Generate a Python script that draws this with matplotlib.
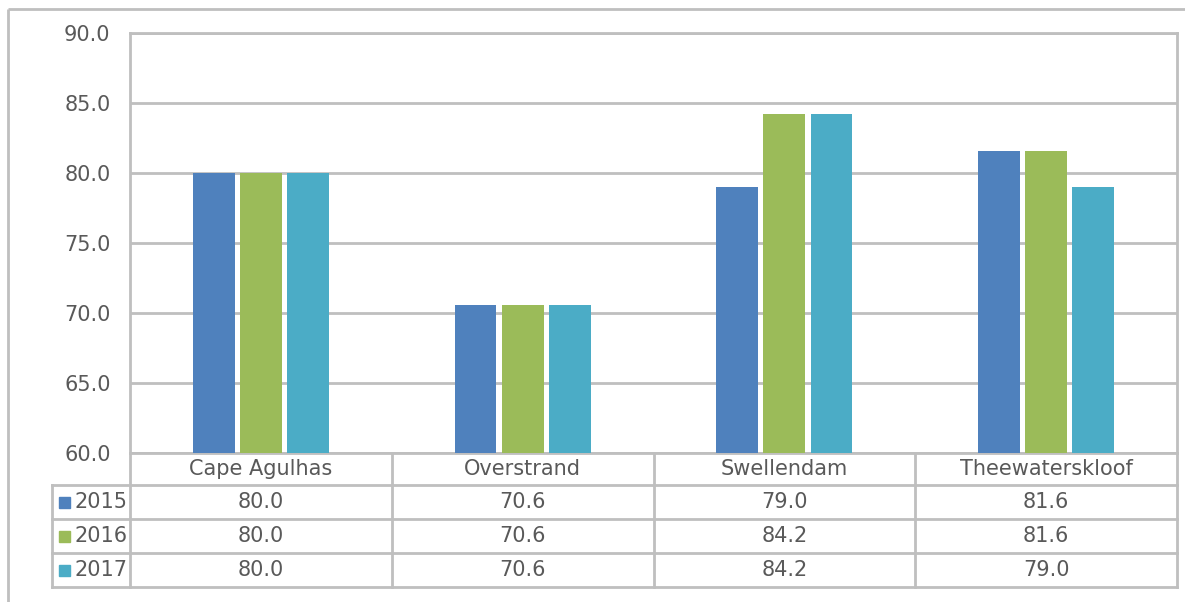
import matplotlib
matplotlib.use("Agg")
import matplotlib.pyplot as plt
import matplotlib.transforms as mtransforms
from matplotlib.patches import Rectangle
from matplotlib.lines import Line2D
import numpy as np

municipalities = ["Cape Agulhas", "Overstrand", "Swellendam", "Theewaterskloof"]
years = ["2015", "2016", "2017"]
values_2015 = [80.0, 70.6, 79.0, 81.6]
values_2016 = [80.0, 70.6, 84.2, 81.6]
values_2017 = [80.0, 70.6, 84.2, 79.0]
series = [values_2015, values_2016, values_2017]
colors = ["#4F81BD", "#9BBB59", "#4BACC6"]

grid_col = "#BFBFBF"
text_col = "#595959"
fsize = 15
plt.rcParams["font.family"] = ["DejaVu Sans"]

W, H = 1185, 602
fig = plt.figure(figsize=(W / 100, H / 100), dpi=100)
ax = fig.add_axes([130 / W, (H - 453) / H, 1047 / W, 420 / H])

x = np.arange(len(municipalities))
bw = 0.16
step = 0.18
for i, vals in enumerate(series):
    ax.bar(x + (i - 1) * step, vals, width=bw, color=colors[i], zorder=3)

ax.set_xlim(-0.5, len(municipalities) - 0.5)
ax.set_ylim(60, 90)
ax.set_yticks(np.arange(60, 91, 5))
ax.set_yticklabels([f"{v:.1f}" for v in np.arange(60, 91, 5)])
ax.set_xticks([])
ax.tick_params(axis="y", length=0, pad=14, labelsize=fsize, labelcolor=text_col)
ax.yaxis.grid(True, color=grid_col, linewidth=2, zorder=0)
for side in ["left", "right", "top", "bottom"]:
    ax.spines[side].set_color(grid_col)
    ax.spines[side].set_linewidth(2)

# data table under the plot: x in data units, y in axes fraction
trans = mtransforms.blended_transform_factory(ax.transData, ax.transAxes)
row_h = 34 / 420
head_h = 32 / 420
left = -0.5
right = len(municipalities) - 0.5
hdr_left = left - 78 / 261.75
y_head = -head_h
y_rows = [y_head - row_h * (k + 1) for k in range(len(years))]
y_bottom = y_rows[-1]

def line(xs, ys):
    ax.add_line(Line2D(xs, ys, transform=trans, color=grid_col, lw=2,
                       clip_on=False, zorder=1))

# horizontal rules
line([left, right], [y_head, y_head])
for y in y_rows:
    line([hdr_left, right], [y, y])
line([hdr_left, left], [y_head, y_head])
# vertical rules
for b in np.arange(left, right + 0.01, 1.0):
    line([b, b], [0, y_bottom])
line([hdr_left, hdr_left], [y_head, y_bottom])

for j, name in enumerate(municipalities):
    ax.text(j, -head_h / 2, name, transform=trans, ha="center", va="center",
            fontsize=fsize, color=text_col)
    for i, vals in enumerate(series):
        yc = y_head - row_h * (i + 0.5)
        ax.text(j, yc, f"{vals[j]:.1f}", transform=trans, ha="center",
                va="center", fontsize=fsize, color=text_col)

sq_w = 11 / 261.75
sq_h = 11 / 420
for i, yr in enumerate(years):
    yc = y_head - row_h * (i + 0.5)
    ax.add_patch(Rectangle((hdr_left + 7 / 261.75, yc - sq_h / 2), sq_w, sq_h,
                           transform=trans, color=colors[i], clip_on=False))
    ax.text(hdr_left + 23 / 261.75, yc, yr, transform=trans, ha="left",
            va="center", fontsize=fsize, color=text_col)

# outer chart frame (top and left edges only)
fig.add_artist(Line2D([8 / W, 1.01], [1 - 9 / H, 1 - 9 / H], color=grid_col,
                      lw=2, solid_capstyle="butt"))
fig.add_artist(Line2D([8 / W, 8 / W], [-0.01, 1 - 9 / H], color=grid_col,
                      lw=2, solid_capstyle="butt"))

fig.savefig("out.png", dpi=100, facecolor="white")
